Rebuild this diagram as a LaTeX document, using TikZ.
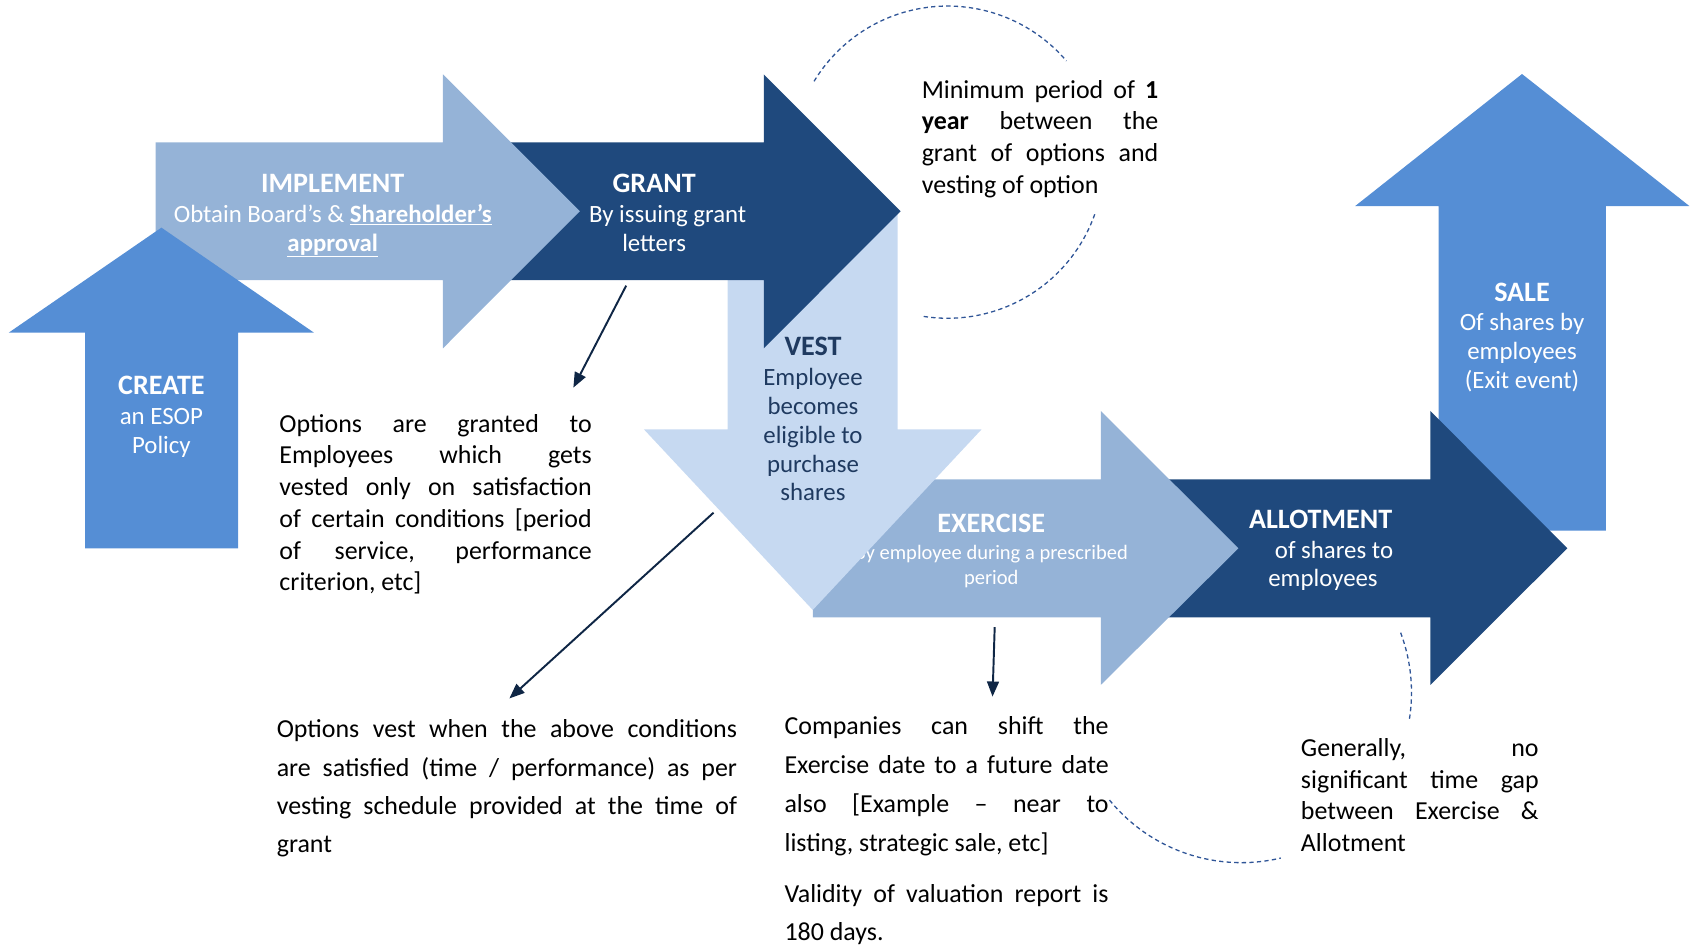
\documentclass[tikz,border=0pt]{standalone}
\usepackage{fontspec}
\setmainfont{Carlito}
\usetikzlibrary{arrows.meta}

\definecolor{cLight}{HTML}{C6D9F1}
\definecolor{cMid}{HTML}{95B3D7}
\definecolor{cBright}{HTML}{558ED5}
\definecolor{cDark}{HTML}{1F497D}
\definecolor{cNavyText}{HTML}{1F3A60}
\definecolor{cPointer}{HTML}{0F2645}
\definecolor{cDash}{HTML}{2F5597}

% one justified line of a note
\newcommand\J[2]{\makebox[#1pt][s]{#2}}

% multi-line nodes are placed by the baseline of their last line
\tikzset{
  ttl/.style={anchor=base, inner sep=0pt, font=\fontsize{26}{27}\selectfont\bfseries, text=white},
  sub/.style={anchor=base, inner sep=0pt, align=center, font=\fontsize{23}{27}\selectfont, text=white},
  note/.style={anchor=base west, inner sep=0pt, align=left, font=\fontsize{24}{29.4}\selectfont},
  pointer/.style={draw=cPointer, line width=1.8pt, -{Triangle[length=14pt,width=11pt]}},
  dasharc/.style={draw=cDash, line width=1.2pt, dash pattern=on 4pt off 3pt},
}

\begin{document}
\begin{tikzpicture}[x=1pt, y=-1pt]
\useasboundingbox (0,0) rectangle (1568,877);

% SALE (up arrow, right)
\fill[cBright] (1408.8,68.5) -- (1563.7,190.7) -- (1486.5,190.7) -- (1486.5,491.2)
  -- (1331.6,491.2) -- (1331.6,190.7) -- (1254.4,190.7) -- cycle;
\node[ttl] (tSale) at (1408.8,279.2) {SALE};
\node[sub, font=\fontsize{23}{26.6}\selectfont] (sSale) at (1408.8,359.4) {Of shares by\\employees\\(Exit event)};

% ALLOTMENT
\fill[cDark] (1050,443.7) -- (1323.9,443.7) -- (1323.9,380.4) -- (1450.7,507.5)
  -- (1323.9,634) -- (1323.9,571.4) -- (1050,571.4) -- cycle;
\node[ttl] (tAllot) at (1222.4,489.6) {ALLOTMENT};
\node[sub, font=\fontsize{23}{26.2}\selectfont] (sAllot) at (1224.6,543) {\hspace*{20.4pt}of shares to\\employees};

% EXERCISE
\fill[cMid] (752.3,443.7) -- (1018.9,443.7) -- (1018.9,380.4) -- (1146.3,507.5)
  -- (1018.9,634) -- (1018.9,571.4) -- (752.3,571.4) -- cycle;
\node[ttl] (tExer) at (917.5,493) {EXERCISE};
\node[sub, font=\fontsize{19}{22.5}\selectfont] (sExer) at (917.5,540.8) {By employee during a prescribed\\period};

% VEST (down arrow)
\fill[cLight] (673.5,196) -- (830.9,196) -- (830.9,397.4) -- (908.6,397.4)
  -- (752.3,564.6) -- (596,397.4) -- (673.5,397.4) -- cycle;
\node[ttl, text=cNavyText] (tVest) at (752.5,329.5) {VEST};
\node[sub, text=cNavyText, font=\fontsize{23}{26.6}\selectfont] (sVest) at (752.5,463.5)
  {Employee\\becomes\\eligible to\\purchase\\shares};

% GRANT
\fill[cDark] (470,131.7) -- (707,131.7) -- (707,68.8) -- (833.6,195.5)
  -- (707,322.4) -- (707,259.2) -- (470,259.2) -- cycle;
\node[ttl] (tGrant) at (605.5,178) {GRANT};
\node[sub, font=\fontsize{23}{26.5}\selectfont] (sGrant) at (605.5,232.5) {\hspace*{25pt}By issuing grant\\letters};

% IMPLEMENT
\fill[cMid] (144,131.7) -- (410,131.7) -- (410,68.8) -- (536.7,195.5)
  -- (410,322.4) -- (410,259.2) -- (144,259.2) -- cycle;
\node[ttl] (tImpl) at (308,178) {IMPLEMENT};
\node[sub, font=\fontsize{23}{26.5}\selectfont] (sImpl) at (308,232.5) {Obtain Board’s \& \underline{\textbf{Shareholder’s}}\\\underline{\textbf{approval}}};

% CREATE (up arrow, left)
\fill[cBright] (149.4,210.7) -- (290.6,307.9) -- (220.5,307.9) -- (220.5,507.5)
  -- (78.8,507.5) -- (78.8,307.9) -- (8.1,307.9) -- cycle;
\node[ttl] (tCreate) at (149.4,365) {CREATE};
\node[sub] (sCreate) at (149.4,419.6) {an ESOP\\Policy};

% notes
\node[note] (nYear) at (853,179)
  {\J{219}{Minimum period of \textbf{1}}\\\J{219}{\textbf{year} between the}\\\J{219}{grant of options and}\\vesting of option};
\node[note] (nGranted) at (258.5,547)
  {\J{289}{Options are granted to}\\\J{289}{Employees which gets}\\\J{289}{vested only on satisfaction}\\\J{289}{of certain conditions [period}\\\J{289}{of service, performance}\\criterion, etc]};
\node[note, font=\fontsize{24}{35.3}\selectfont] (nVest) at (256,789)
  {\J{426}{Options vest when the above conditions}\\\J{426}{are satisfied (time / performance) as per}\\\J{426}{vesting schedule provided at the time of}\\grant};
\node[note, font=\fontsize{24}{36}\selectfont] (nShift) at (726,871)
  {\J{300}{Companies can shift the}\\\J{300}{Exercise date to a future date}\\\J{300}{also [Example – near to}\\listing, strategic sale, etc]\\[11pt]\J{300}{Validity of valuation report is}\\180 days.};
\node[note] (nGap) at (1204,788.3)
  {\J{220}{Generally, no}\\\J{220}{significant time gap}\\\J{220}{between Exercise \&}\\Allotment};

% pointers from the arrows to their notes
\coordinate (pGrant) at (579.6,264.4);
\coordinate (pGranted) at (530.7,358.8);
\coordinate (pVest) at (660.5,474.5);
\coordinate (pVested) at (471.5,646.5);
\coordinate (pExer) at (920.7,580.5);
\coordinate (pShift) at (918.7,644.8);
\draw[pointer] (pGrant) -- (pGranted);
\draw[pointer] (pVest) -- (pVested);
\draw[pointer] (pExer) -- (pShift);

% dashed arcs round the timing notes
\draw[dasharc] plot[domain=148.8:40.4, samples=60, variable=\t] ({877.1+144.5*cos(\t)}, {150.1-144.5*sin(\t)});
\draw[dasharc] plot[domain=-19.5:-99.6, samples=60, variable=\t] ({877.1+144.5*cos(\t)}, {150.1-144.5*sin(\t)});
\draw[dasharc] plot[domain=20.6:-9, samples=30, variable=\t] ({1149+157.5*cos(\t)}, {641-157.5*sin(\t)});
\draw[dasharc] plot[domain=-140.8:-76.6, samples=50, variable=\t] ({1149+157.5*cos(\t)}, {641-157.5*sin(\t)});
\end{tikzpicture}
\end{document}
